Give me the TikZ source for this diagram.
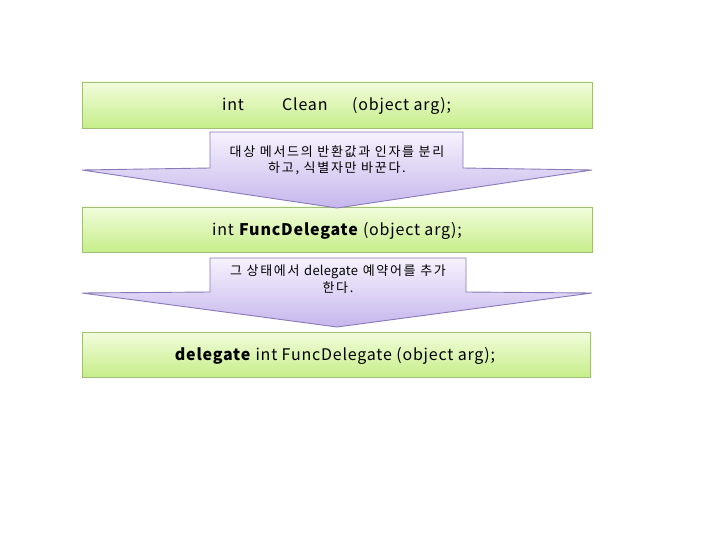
\documentclass[tikz,border=0pt]{standalone}
\usepackage{fontspec}
\setmainfont{Noto Sans CJK KR}
\usetikzlibrary{shadings}
\definecolor{gtop}{HTML}{F2FCDC}
\definecolor{gbot}{HTML}{C6EE8A}
\definecolor{gline}{HTML}{A2BF78}
\definecolor{ptop}{HTML}{F6F2FD}
\definecolor{pbot}{HTML}{C6B6EC}
\definecolor{pline}{HTML}{8A7AB8}
\begin{document}
\begin{tikzpicture}[x=1pt,y=-1pt,
  gbox/.style={draw=gline,line width=0.9pt,top color=gtop,bottom color=gbot},
  callout/.style={draw=pline,line width=0.9pt,top color=ptop,bottom color=pbot},
  boxtext/.style={font=\fontsize{16}{18}\selectfont\addfontfeatures{LetterSpace=5},inner sep=0pt},
  caltext/.style={font=\fontsize{13}{15}\selectfont\addfontfeatures{LetterSpace=13},inner sep=0pt,align=center}]
\useasboundingbox (0,0) rectangle (720,540);
% boxes
\path[gbox] (82,82) rectangle (592,128);
\path[gbox] (82,207) rectangle (592,252);
\path[gbox] (82,332) rectangle (590,377);
% callouts
\path[callout] (210,132) -- (463,132) -- (463,168) -- (592,170) -- (337,208) -- (82,170) -- (210,168) -- cycle;
\path[callout] (210,258) -- (466,258) -- (466,292) -- (592,293) -- (337,327) -- (82,293) -- (210,292) -- cycle;
% texts
\node[boxtext,anchor=base west] (t1a) at (222,111) {int};
\node[boxtext,anchor=base west] (t1b) at (282,111) {Clean};
\node[boxtext,anchor=base west] (t1c) at (352,111) {(object arg);};
\node[boxtext] (t2) at (337,231) {int \textbf{FuncDelegate} (object arg);};
\node[boxtext] (t3) at (335,356) {\textbf{delegate} int FuncDelegate (object arg);};
\node[caltext] (c1a) at (337,152) {대상 메서드의 반환값과 인자를 분리};
\node[caltext] (c1b) at (337,168) {하고, 식별자만 바꾼다.};
\node[caltext] (c2a) at (338,272) {그 상태에서 {\addfontfeatures{LetterSpace=2}delegate} 예약어를 추가};
\node[caltext] (c2b) at (338,288) {한다.};
\end{tikzpicture}
\end{document}
